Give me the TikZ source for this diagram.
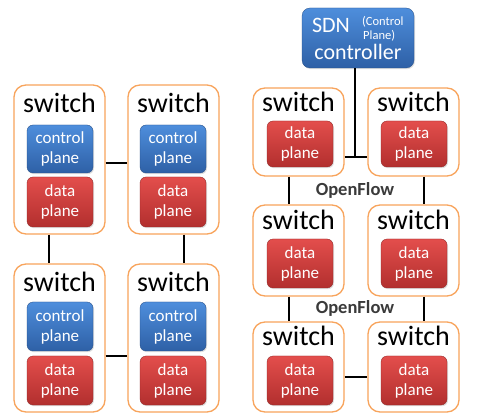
\documentclass[tikz,border=0pt]{standalone}
\usepackage{fontspec}
\setmainfont{Carlito}
\usetikzlibrary{shadows}
\definecolor{sworange}{HTML}{F8A45C}
\definecolor{bluetop}{HTML}{4E8EDC}
\definecolor{bluebot}{HTML}{2E60A6}
\definecolor{redtop}{HTML}{E34E4C}
\definecolor{redbot}{HTML}{B22F2E}
\definecolor{oftext}{HTML}{3A3A3A}
\tikzset{
  swbox/.style={draw=sworange, line width=1.3pt, rounded corners=12pt, fill=white, inner sep=0pt},
  blk/.style={rounded corners=6pt, inner sep=0pt, align=center, text=white,
    font=\fontsize{17}{20}\selectfont, minimum width=66pt,
    drop shadow={opacity=0.25, shadow xshift=1pt, shadow yshift=-1.2pt}},
  ctrlblk/.style={blk, top color=bluetop, bottom color=bluebot, draw=bluebot!80!black, line width=0.3pt},
  datablk/.style={blk, top color=redtop, bottom color=redbot, draw=redbot!80!black, line width=0.3pt},
  swlabel/.style={anchor=base, inner sep=0pt, font=\fontsize{28}{30}\selectfont},
  link/.style={line width=2.8pt, black},
  oflabel/.style={inner sep=0pt, text=oftext, font=\bfseries\fontsize{18.5}{20}\selectfont}
}
\begin{document}
\begin{tikzpicture}[x=1pt,y=-1pt]
\useasboundingbox (0,0) rectangle (479,419);
\fill[white] (0,0) rectangle (479,419);

\coordinate (J) at (355,157);

% ---------- left: traditional switches ----------
\node[swbox, minimum width=91pt, minimum height=149pt] (LA) at (59.5,159.5) {};
\node[swbox, minimum width=91pt, minimum height=149pt] (LB) at (173.5,159.5) {};
\node[swbox, minimum width=91pt, minimum height=148pt] (LC) at (59.5,338) {};
\node[swbox, minimum width=91pt, minimum height=148pt] (LD) at (173.5,338) {};

\node[swlabel] (LAt) at (59.5,113) {switch};
\node[swlabel] (LBt) at (173.5,113) {switch};
\node[swlabel] (LCt) at (59.5,292) {switch};
\node[swlabel] (LDt) at (173.5,292) {switch};

\node[ctrlblk, minimum height=48pt] (LAc) at (60,149) {control\\plane};
\node[datablk, minimum height=50pt] (LAd) at (60,202) {data\\plane};
\node[ctrlblk, minimum height=48pt] (LBc) at (173,149) {control\\plane};
\node[datablk, minimum height=50pt] (LBd) at (173,202) {data\\plane};
\node[ctrlblk, minimum height=49pt] (LCc) at (60,326.5) {control\\plane};
\node[datablk, minimum height=49pt] (LCd) at (60,380.5) {data\\plane};
\node[ctrlblk, minimum height=49pt] (LDc) at (173,326.5) {control\\plane};
\node[datablk, minimum height=49pt] (LDd) at (173,380.5) {data\\plane};

\draw[link] ([yshift=-3.5pt]LA.east) -- ([yshift=-3.5pt]LB.west);
\draw[link] ([yshift=-18pt]LC.east) -- ([yshift=-18pt]LD.west);
\draw[link] ([xshift=-10.5pt]LA.south) -- ([xshift=-10.5pt]LC.north);
\draw[link] ([xshift=10.5pt]LB.south) -- ([xshift=10.5pt]LD.north);

% ---------- right: SDN ----------
\node[ctrlblk, rounded corners=8pt, minimum width=112pt, minimum height=60pt] (SDN) at (358,38) {};
\node[anchor=base, inner sep=0pt, text=white, font=\fontsize{22}{24}\selectfont] (SDNt) at (331,33) {SDN};
\node[anchor=base, inner sep=0pt, text=white, font=\fontsize{22}{24}\selectfont] (SDNc) at (358,60) {controller};
\node[anchor=west, inner sep=0pt, text=white, align=left, font=\fontsize{12.5}{14.5}\selectfont] (SDNp) at (362,29) {(Control\\\hspace*{1pt}Plane)};

\node[swbox, minimum width=91pt, minimum height=88pt] (RA) at (298.5,132) {};
\node[swbox, minimum width=91pt, minimum height=88pt] (RB) at (413.5,132) {};
\node[swbox, minimum width=91pt, minimum height=91pt] (RC) at (298.5,250.5) {};
\node[swbox, minimum width=91pt, minimum height=91pt] (RD) at (413.5,250.5) {};
\node[swbox, minimum width=91pt, minimum height=90pt] (RE) at (298.5,367) {};
\node[swbox, minimum width=91pt, minimum height=90pt] (RF) at (413.5,367) {};

\node[swlabel] (RAt) at (298.5,112) {switch};
\node[swlabel] (RBt) at (413.5,112) {switch};
\node[swlabel] (RCt) at (298.5,230) {switch};
\node[swlabel] (RDt) at (413.5,230) {switch};
\node[swlabel] (REt) at (298.5,346) {switch};
\node[swlabel] (RFt) at (413.5,346) {switch};

\node[datablk, minimum height=46pt] (RAd) at (300,144) {data\\plane};
\node[datablk, minimum height=46pt] (RBd) at (414,144) {data\\plane};
\node[datablk, minimum height=49pt] (RCd) at (300,263.5) {data\\plane};
\node[datablk, minimum height=49pt] (RDd) at (414,263.5) {data\\plane};
\node[datablk, minimum height=49pt] (REd) at (300,380.5) {data\\plane};
\node[datablk, minimum height=49pt] (RFd) at (414,380.5) {data\\plane};

\draw[link] ([yshift=-25pt]RA.east) -- ([yshift=-25pt]RB.west);
\draw[link] ([xshift=-3pt]SDN.south) -- (J);
\draw[link] ([xshift=-9.5pt]RA.south) -- ([xshift=-9.5pt]RC.north);
\draw[link] ([xshift=10.5pt]RB.south) -- ([xshift=10.5pt]RD.north);
\draw[link] ([xshift=-9.5pt]RC.south) -- ([xshift=-9.5pt]RE.north);
\draw[link] ([xshift=10.5pt]RD.south) -- ([xshift=10.5pt]RF.north);
\draw[link] ([yshift=-10pt]RE.east) -- ([yshift=-10pt]RF.west);

\node[oflabel, fill=white, inner xsep=2pt] (OF1) at (355,190) {OpenFlow};
\node[oflabel, fill=white, inner xsep=2pt] (OF2) at (355,308) {OpenFlow};
\end{tikzpicture}
\end{document}
